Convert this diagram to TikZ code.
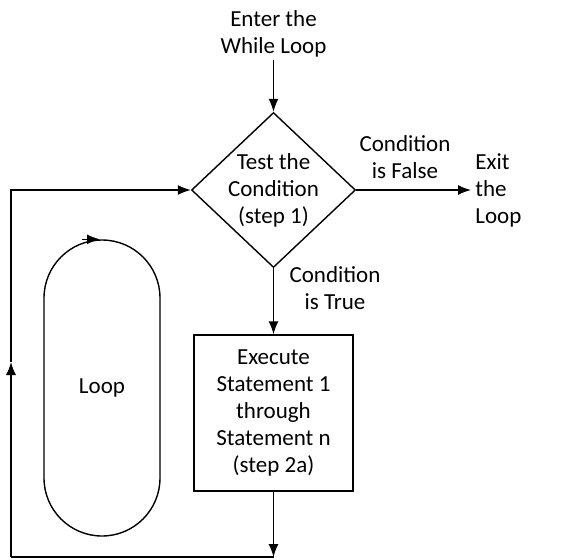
\documentclass[tikz,border=0pt]{standalone}
\usepackage{fontspec}
\setmainfont{Carlito}
\usetikzlibrary{arrows.meta,shapes.geometric,positioning}

\tikzset{
  line/.style={draw=black,line width=0.7pt},
  arr/.style={line,-{Latex[length=6.5pt,width=5pt]}},
  txt/.style={align=center,inner sep=0pt,font=\fontsize{11.5}{13.5}\selectfont},
  decision/.style={txt,line,shape=diamond,minimum width=82pt,minimum height=77.5pt,aspect=1.06,inner sep=-4pt},
  stepbox/.style={txt,line,minimum width=79.5pt,minimum height=78pt},
  loopbox/.style={txt,line,minimum width=58pt,minimum height=148pt,rounded corners=29pt}
}

\begin{document}
\begin{tikzpicture}[x=0.5pt,y=-0.5pt]
\useasboundingbox (0,0) rectangle (585,559);

% nodes
\node[txt] (enter) at (273.5,34) {Enter the\\While Loop};
\node[decision] (test) at (273.5,190) {Test the\\Condition\\(step 1)};
\node[txt] (false) at (405,157) {Condition\\is False};
\node[txt,align=left,anchor=west] (exit) at (475,190) {Exit\\the\\Loop};
\node[txt] (true) at (335,288) {Condition\\is True};
\node[stepbox] (exec) at (273.5,413) {Execute\\Statement 1\\through\\Statement n\\(step 2a)};
\node[loopbox] (loop) at (102,388) {Loop};

% loop-back corners
\coordinate (bot) at (273.5,557);
\coordinate (botleft) at (11,557);
\coordinate (midleft) at (11,362);
\coordinate (topleft) at (11,190);

% connectors
\draw[arr] ([yshift=-1pt]enter.south) -- (test.north);
\draw[arr] (test.east) -- ([xshift=-2pt]exit.west);
\draw[arr] (test.south) -- (exec.north);
\draw[arr] (exec.south) -- (bot);
\draw[line] (bot) -- (botleft);
\draw[arr] (botleft) -- (midleft);
\draw[arr] (midleft) -- (topleft) -- (test.west);
\draw[arr] ([xshift=-10pt]loop.north) -- ([xshift=-1pt]loop.north);
\end{tikzpicture}
\end{document}
